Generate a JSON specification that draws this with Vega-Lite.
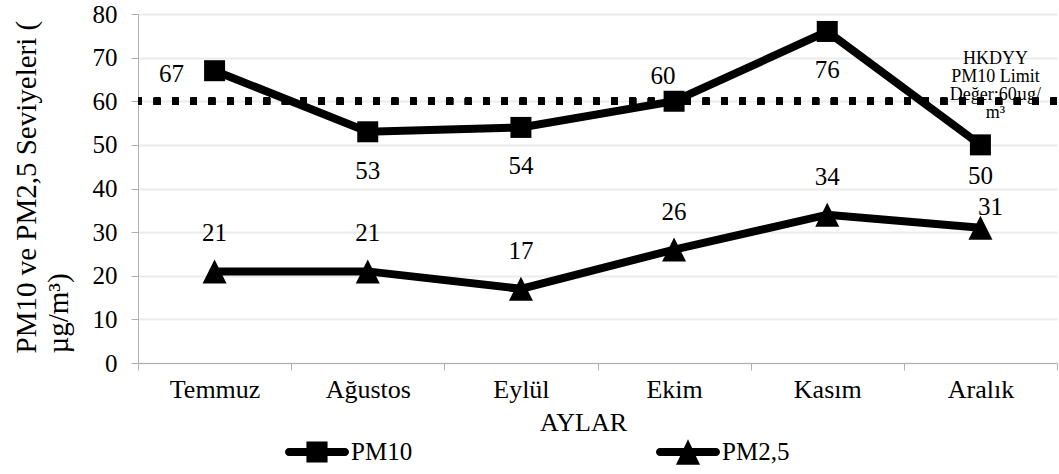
{
  "$schema": "https://vega.github.io/schema/vega-lite/v6.json",
  "width": 919,
  "height": 349,
  "autosize": "none",
  "padding": {"left": 138, "top": 14, "right": 2, "bottom": 111},
  "background": "white",
  "config": {
    "view": {"stroke": null},
    "font": "Liberation Serif",
    "text": {"font": "Liberation Serif", "color": "black"},
    "axis": {"labelFont": "Liberation Serif", "titleFont": "Liberation Serif"},
    "legend": {"labelFont": "Liberation Serif", "titleFont": "Liberation Serif"}
  },
  "data": {
    "values": [
      {"month": "Temmuz", "series": "PM10", "value": 67},
      {"month": "Ağustos", "series": "PM10", "value": 53},
      {"month": "Eylül", "series": "PM10", "value": 54},
      {"month": "Ekim", "series": "PM10", "value": 60},
      {"month": "Kasım", "series": "PM10", "value": 76},
      {"month": "Aralık", "series": "PM10", "value": 50},
      {"month": "Temmuz", "series": "PM2,5", "value": 21},
      {"month": "Ağustos", "series": "PM2,5", "value": 21},
      {"month": "Eylül", "series": "PM2,5", "value": 17},
      {"month": "Ekim", "series": "PM2,5", "value": 26},
      {"month": "Kasım", "series": "PM2,5", "value": 34},
      {"month": "Aralık", "series": "PM2,5", "value": 31}
    ]
  },
  "encoding": {
    "x": {
      "field": "month",
      "type": "nominal",
      "sort": ["Temmuz", "Ağustos", "Eylül", "Ekim", "Kasım", "Aralık"],
      "scale": {"type": "band", "paddingInner": 0, "paddingOuter": 0},
      "axis": {
        "title": "AYLAR",
        "titleFont": "Liberation Serif",
        "titleFontSize": 26,
        "titleFontWeight": "normal",
        "titleColor": "black",
        "titleX": 445,
        "titleY": 59,
        "titleBaseline": "middle",
        "labelAngle": 0,
        "labelFont": "Liberation Serif",
        "labelFontSize": 26,
        "labelColor": "black",
        "labelPadding": 6,
        "tickBand": "extent",
        "tickSize": 7,
        "tickColor": "#b0b0b0",
        "domainColor": "#b0b0b0",
        "grid": false
      }
    },
    "y": {
      "field": "value",
      "type": "quantitative",
      "scale": {"domain": [0, 80], "nice": false},
      "axis": {
        "values": [0, 10, 20, 30, 40, 50, 60, 70, 80],
        "title": ["PM10  ve PM2,5  Seviyeleri (", "µg/m³)"],
        "titleFont": "Liberation Serif",
        "titleFontSize": 29,
        "titleFontWeight": "normal",
        "titleColor": "black",
        "titleAnchor": "start",
        "titleAlign": "left",
        "titleAngle": -90,
        "titleBaseline": "alphabetic",
        "titleLineHeight": 32,
        "titleX": -103,
        "titleY": 339,
        "labelFont": "Liberation Serif",
        "labelFontSize": 25,
        "labelColor": "black",
        "labelPadding": 14,
        "tickSize": 7,
        "tickColor": "#b0b0b0",
        "domainColor": "#b0b0b0",
        "grid": true,
        "gridColor": "#ebebeb",
        "gridWidth": 2
      }
    }
  },
  "layer": [
    {
      "mark": {"type": "rule", "color": "black", "strokeWidth": 7, "strokeDash": [6.5, 11.8]},
      "encoding": {"x": null, "y": {"datum": 60}}
    },
    {
      "mark": {"type": "line", "color": "black", "strokeWidth": 8},
      "encoding": {"detail": {"field": "series"}}
    },
    {
      "transform": [{"filter": "datum.series === 'PM10'"}],
      "mark": {"type": "point", "shape": "square", "size": 441, "filled": true, "color": "black", "opacity": 1}
    },
    {
      "transform": [{"filter": "datum.series === 'PM2,5'"}],
      "mark": {"type": "point", "shape": "M0,-1L1,1L-1,1Z", "size": 576, "filled": true, "color": "black", "opacity": 1}
    },
    {
      "mark": {"type": "point", "filled": true, "color": "black", "opacity": 0},
      "encoding": {
        "shape": {
          "field": "series",
          "type": "nominal",
          "scale": {
            "domain": ["PM10", "PM2,5"],
            "range": [
              "M-0.875,-0.125H0.875A0.125,0.125 0 0 1 0.875,0.125H-0.875A0.125,0.125 0 0 1 -0.875,-0.125ZM-0.33,-0.33H0.33V0.33H-0.33Z",
              "M-0.875,-0.125H0.875A0.125,0.125 0 0 1 0.875,0.125H-0.875A0.125,0.125 0 0 1 -0.875,-0.125ZM0,-0.4L0.375,0.4L-0.375,0.4Z"
            ]
          },
          "legend": {
            "title": null,
            "orient": "none",
            "legendX": 147,
            "legendY": 406,
            "direction": "horizontal",
            "symbolSize": 4096,
            "symbolStrokeWidth": 0,
            "symbolFillColor": "black",
            "symbolOpacity": 1,
            "labelFont": "Liberation Serif",
            "labelFontSize": 25,
            "labelColor": "black",
            "labelOffset": 2,
            "columnPadding": 243,
            "padding": 0
          }
        }
      }
    },
    {
      "transform": [{"filter": "datum.series === 'PM10' && indexof(['Ağustos','Eylül','Kasım'], datum.month) >= 0"}],
      "mark": {"type": "text", "font": "Liberation Serif", "fontSize": 25, "baseline": "middle", "dy": 39},
      "encoding": {"text": {"field": "value"}}
    },
    {
      "transform": [{"filter": "datum.series === 'PM10' && datum.month === 'Aralık'"}],
      "mark": {"type": "text", "font": "Liberation Serif", "fontSize": 25, "baseline": "middle", "dy": 31},
      "encoding": {"text": {"field": "value"}}
    },
    {
      "transform": [{"filter": "datum.series === 'PM10' && datum.month === 'Temmuz'"}],
      "mark": {"type": "text", "font": "Liberation Serif", "fontSize": 25, "baseline": "middle", "dx": -43, "dy": 3},
      "encoding": {"text": {"field": "value"}}
    },
    {
      "transform": [{"filter": "datum.series === 'PM10' && datum.month === 'Ekim'"}],
      "mark": {"type": "text", "font": "Liberation Serif", "fontSize": 25, "baseline": "middle", "dx": -11, "dy": -25},
      "encoding": {"text": {"field": "value"}}
    },
    {
      "transform": [{"filter": "datum.series === 'PM2,5' && datum.month !== 'Aralık'"}],
      "mark": {"type": "text", "font": "Liberation Serif", "fontSize": 25, "baseline": "middle", "dy": -38},
      "encoding": {"text": {"field": "value"}}
    },
    {
      "transform": [{"filter": "datum.series === 'PM2,5' && datum.month === 'Aralık'"}],
      "mark": {"type": "text", "font": "Liberation Serif", "fontSize": 25, "baseline": "middle", "dx": 10, "dy": -21},
      "encoding": {"text": {"field": "value"}}
    },
    {
      "transform": [{"filter": "datum.series === 'PM10' && datum.month === 'Aralık'"}],
      "mark": {"type": "text", "font": "Liberation Serif", "fontSize": 18, "baseline": "alphabetic", "align": "center", "lineHeight": 18, "dx": 15, "dy": -37},
      "encoding": {"y": {"datum": 60}, "text": {"value": ["HKDYY", "PM10 Limit", "Değer:60µg/", "m³"]}}
    }
  ]
}
